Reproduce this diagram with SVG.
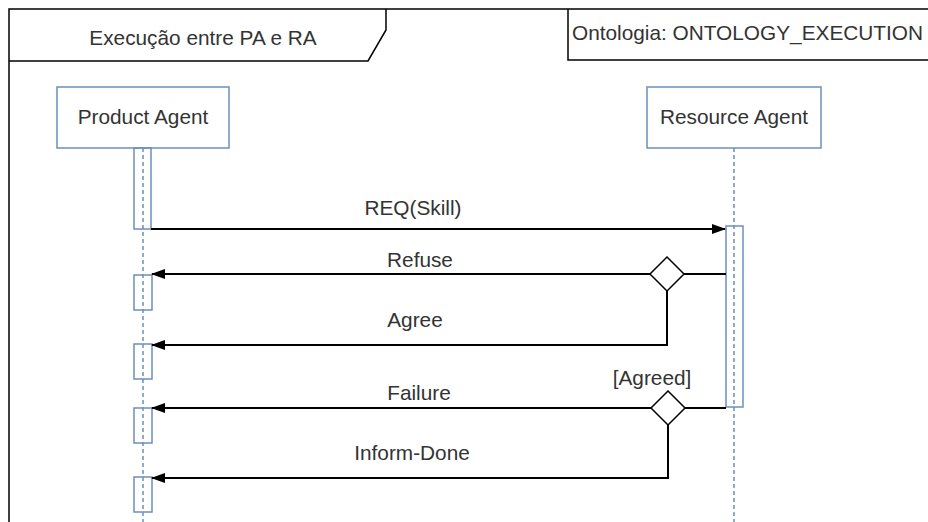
<svg xmlns="http://www.w3.org/2000/svg" width="928" height="522" viewBox="0 0 928 522">
<style>
text{font-family:"Liberation Sans",Arial,sans-serif;font-size:20.8px;fill:#333;}
.c{text-anchor:middle;}
.frame{fill:none;stroke:#000;stroke-width:1.5;}
.box{fill:#fff;stroke:#6c8ebf;stroke-width:1.5;}
.act{fill:none;stroke:#6c8ebf;stroke-width:1.5;}
.life{fill:none;stroke:#6c8ebf;stroke-width:1.5;stroke-dasharray:4 3;}
.msg{fill:none;stroke:#000;stroke-width:2;}
.dia{fill:#fff;stroke:#000;stroke-width:1.5;}
</style>
<defs>
<marker id="ah" markerWidth="14" markerHeight="10" refX="13" refY="5" orient="auto" markerUnits="userSpaceOnUse">
<path d="M0,0 L14,5 L0,10 z" fill="#000"/>
</marker>
</defs>
<rect width="928" height="522" fill="#fff"/>
<g id="frame">
<path class="frame" d="M9,522 L9,9 L928,9"/>
<path class="frame" d="M9,61 L368,61 L386,30 L386,9"/>
<text class="c" x="203" y="45">Execução entre PA e RA</text>
</g>
<g id="ontology">
<path class="frame" d="M930,60 L568,60 L568,9"/>
<text x="572" y="40">Ontologia: ONTOLOGY_EXECUTION</text>
</g>
<g id="product-agent">
<line class="life" x1="143" y1="148" x2="143" y2="522"/>
<rect class="box" x="57" y="87" width="172" height="61"/>
<text class="c" x="143" y="124">Product Agent</text>
<rect class="act" x="134" y="148" width="17" height="81"/>
<rect class="act" x="134" y="275" width="18" height="35"/>
<rect class="act" x="134" y="344" width="18" height="35"/>
<rect class="act" x="134" y="408" width="18" height="35"/>
<rect class="act" x="134" y="477" width="18" height="35"/>
</g>
<g id="resource-agent">
<line class="life" x1="734" y1="148" x2="734" y2="522"/>
<rect class="box" x="647" y="87" width="174" height="61"/>
<text class="c" x="734" y="124">Resource Agent</text>
<rect class="act" x="726" y="226" width="17" height="181"/>
</g>
<g id="connectors">
<line class="msg" x1="151" y1="229" x2="725" y2="229" marker-end="url(#ah)"/>
<line class="msg" x1="684" y1="274" x2="726" y2="274"/>
<line class="msg" x1="650" y1="274" x2="152" y2="274" marker-end="url(#ah)"/>
<path class="msg" d="M667,291 L667,345 L152,345" marker-end="url(#ah)"/>
<line class="msg" x1="685" y1="408" x2="726" y2="408"/>
<line class="msg" x1="651" y1="408" x2="152" y2="408" marker-end="url(#ah)"/>
<path class="msg" d="M668,424 L668,478 L152,478" marker-end="url(#ah)"/>
<text class="c" x="413" y="215">REQ(Skill)</text>
<text class="c" x="420" y="267">Refuse</text>
<text class="c" x="415" y="327">Agree</text>
<text class="c" x="419" y="400">Failure</text>
<text class="c" x="412" y="460">Inform-Done</text>
<text class="c" x="652" y="385">[Agreed]</text>
</g>
<g id="decision-1">
<path class="dia" d="M667,257 L684,274 L667,291 L650,274 z"/>
</g>
<g id="decision-2">
<path class="dia" d="M668,391 L685,408 L668,425 L651,408 z"/>
</g>
</svg>
